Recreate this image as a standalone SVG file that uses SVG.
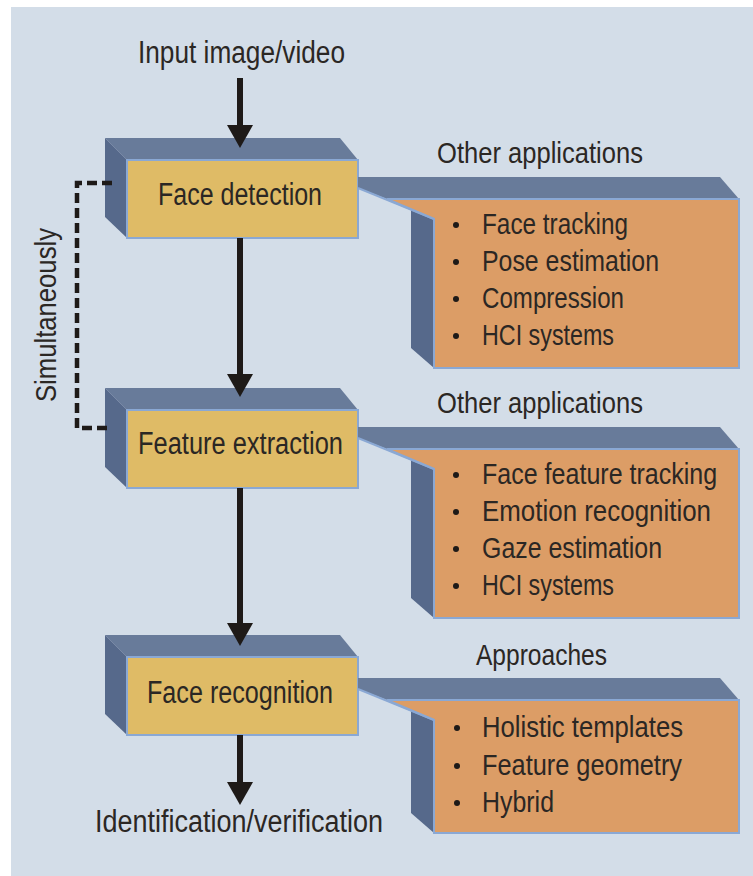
<svg xmlns="http://www.w3.org/2000/svg" width="753" height="876" viewBox="0 0 753 876">
<defs>
<style>
.bg{fill:#d3dde8}
.top{fill:#687b9a}
.side{fill:#56698b}
.front{fill:#dfbb66;stroke:#8aa8d4;stroke-width:2}
.orange{fill:#dc9d66;stroke:#8aa8d4;stroke-width:2}
.edge{fill:none;stroke:#8aa8d4;stroke-width:2}
text{font-family:"Liberation Sans Narrow","Liberation Sans",Arial,sans-serif;fill:#2b2724}
.lbl{font-size:31px}
.item{font-size:30px}
.bul{fill:#1e1a18}
.arrow{stroke:#1e1a18;stroke-width:6;fill:none}
.dash{stroke:#1e1a18;stroke-width:4.5;fill:none;stroke-dasharray:10 5}
</style>
<marker id="ah" markerUnits="userSpaceOnUse" viewBox="0 0 23 26" markerWidth="23" markerHeight="26" refX="13" refY="13" orient="auto">
<path d="M0,0 L23,13 L0,26 z" fill="#1e1a18"/>
</marker>
</defs>
<rect class="bg" x="11" y="7" width="742" height="869"/>

<g id="input">
<text class="lbl" x="138" y="63" textLength="207" lengthAdjust="spacingAndGlyphs">Input image/video</text>
</g>

<g id="face-detection">
<polygon class="top" points="105,138 340,138 358,160 127,160"/>
<polygon class="side" points="105,138 127,160 127,238 105,217"/>
<rect class="front" x="127" y="160" width="231" height="78"/>
<text class="lbl" x="158" y="205" textLength="164" lengthAdjust="spacingAndGlyphs">Face detection</text>
</g>

<g id="apps-1">
<text class="item" x="437" y="163" textLength="206" lengthAdjust="spacingAndGlyphs">Other applications</text>
<polygon class="top" points="358,177 720,177 739,199 387,199 358,188"/>
<polygon class="side" points="411,209 434,219 434,368 411,348"/>
<polygon class="orange" points="387,199 739,199 739,368 434,368 434,219"/>
<line class="edge" x1="358" y1="188" x2="434" y2="219"/>
<circle class="bul" cx="456" cy="225" r="3"/>
<circle class="bul" cx="456" cy="262" r="3"/>
<circle class="bul" cx="456" cy="299" r="3"/>
<circle class="bul" cx="456" cy="336" r="3"/>
<text class="item" x="482" y="234" textLength="146" lengthAdjust="spacingAndGlyphs">Face tracking</text>
<text class="item" x="482" y="271" textLength="177" lengthAdjust="spacingAndGlyphs">Pose estimation</text>
<text class="item" x="482" y="308" textLength="142" lengthAdjust="spacingAndGlyphs">Compression</text>
<text class="item" x="482" y="345" textLength="132" lengthAdjust="spacingAndGlyphs">HCI systems</text>
</g>

<g id="feature-extraction">
<polygon class="top" points="105,388 340,388 358,410 127,410"/>
<polygon class="side" points="105,388 127,410 127,488 105,467"/>
<rect class="front" x="127" y="410" width="231" height="78"/>
<text class="lbl" x="138" y="454" textLength="205" lengthAdjust="spacingAndGlyphs">Feature extraction</text>
</g>

<g id="apps-2">
<text class="item" x="437" y="413" textLength="206" lengthAdjust="spacingAndGlyphs">Other applications</text>
<polygon class="top" points="358,427 720,427 739,449 387,449 358,438"/>
<polygon class="side" points="411,459 434,469 434,618 411,598"/>
<polygon class="orange" points="387,449 739,449 739,618 434,618 434,469"/>
<line class="edge" x1="358" y1="438" x2="434" y2="469"/>
<circle class="bul" cx="456" cy="475" r="3"/>
<circle class="bul" cx="456" cy="512" r="3"/>
<circle class="bul" cx="456" cy="549" r="3"/>
<circle class="bul" cx="456" cy="586" r="3"/>
<text class="item" transform="translate(482,484) scale(0.835,1)" x="0" y="0">Face feature tracking</text>
<text class="item" x="482" y="521" textLength="229" lengthAdjust="spacingAndGlyphs">Emotion recognition</text>
<text class="item" x="482" y="558" textLength="180" lengthAdjust="spacingAndGlyphs">Gaze estimation</text>
<text class="item" x="482" y="595" textLength="132" lengthAdjust="spacingAndGlyphs">HCI systems</text>
</g>

<g id="face-recognition">
<polygon class="top" points="105,635 340,635 358,657 127,657"/>
<polygon class="side" points="105,635 127,657 127,735 105,714"/>
<rect class="front" x="127" y="657" width="231" height="78"/>
<text class="lbl" x="147" y="703" textLength="186" lengthAdjust="spacingAndGlyphs">Face recognition</text>
</g>

<g id="approaches">
<text class="item" x="476" y="665" textLength="131" lengthAdjust="spacingAndGlyphs">Approaches</text>
<polygon class="top" points="358,678 720,678 739,700 387,700 358,689"/>
<polygon class="side" points="411,710 434,720 434,833 411,813"/>
<polygon class="orange" points="387,700 739,700 739,833 434,833 434,720"/>
<line class="edge" x1="358" y1="689" x2="434" y2="720"/>
<circle class="bul" cx="457" cy="728" r="3"/>
<circle class="bul" cx="457" cy="766" r="3"/>
<circle class="bul" cx="457" cy="803" r="3"/>
<text class="item" x="482" y="737" textLength="201" lengthAdjust="spacingAndGlyphs">Holistic templates</text>
<text class="item" x="482" y="775" textLength="200" lengthAdjust="spacingAndGlyphs">Feature geometry</text>
<text class="item" x="482" y="812" textLength="72" lengthAdjust="spacingAndGlyphs">Hybrid</text>
</g>

<g id="output">
<text class="lbl" x="95" y="832" textLength="288" lengthAdjust="spacingAndGlyphs">Identification/verification</text>
</g>

<g id="simultaneously">
<text class="item" transform="translate(56,315) rotate(-90)" x="0" y="0" text-anchor="middle" textLength="174" lengthAdjust="spacingAndGlyphs">Simultaneously</text>
</g>

<g id="connectors">
<line class="arrow" x1="240" y1="78" x2="240" y2="138" marker-end="url(#ah)"/>
<line class="arrow" x1="240" y1="238" x2="240" y2="387" marker-end="url(#ah)"/>
<line class="arrow" x1="240" y1="488" x2="240" y2="636" marker-end="url(#ah)"/>
<line class="arrow" x1="240" y1="735" x2="240" y2="795" marker-end="url(#ah)"/>
<path class="dash" d="M112,183 H77 V428 H112"/>
</g>
</svg>
